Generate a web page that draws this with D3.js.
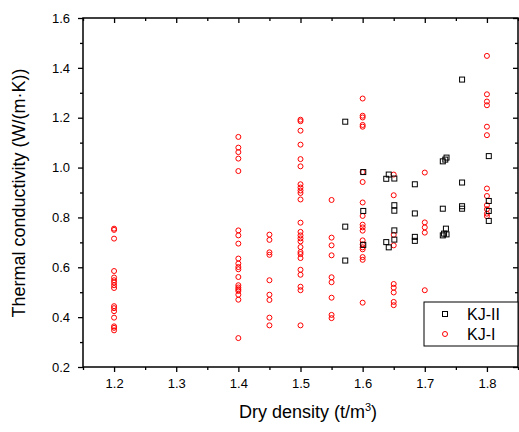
<!DOCTYPE html>
<html>
<head>
<meta charset="utf-8">
<script src="https://cdn.jsdelivr.net/npm/d3@7"></script>
<style>
  body { margin: 0; background: #fff; }
  svg text { font-family: Arial, "Liberation Sans", sans-serif; }
</style>
</head>
<body>
<svg id="chart"></svg>
<script>
let width = 519
let height = 432

// KJ-II (black squares)
let kj2Density = [
  1.572, 1.572, 1.572,
  1.601, 1.601, 1.601,
  1.638, 1.642, 1.638, 1.642,
  1.651, 1.651, 1.651, 1.651, 1.651,
  1.684, 1.684, 1.684, 1.684,
  1.729, 1.733, 1.735, 1.729, 1.734, 1.731, 1.729, 1.735,
  1.76, 1.76, 1.76, 1.76,
  1.803, 1.803, 1.803, 1.803
]
let kj2Conductivity = [
  1.184, 0.763, 0.627,
  0.982, 0.826, 0.69,
  0.955, 0.972, 0.701, 0.68,
  0.956, 0.849, 0.827, 0.748, 0.711,
  0.933, 0.816, 0.722, 0.706,
  1.025, 1.032, 1.040, 0.835, 0.755, 0.735, 0.728, 0.732,
  1.353, 0.940, 0.845, 0.835,
  1.046, 0.866, 0.826, 0.786
]

// KJ-I (red circles)
let kj1Density = [
  1.2, 1.2, 1.2, 1.2, 1.2, 1.2, 1.2, 1.2, 1.2, 1.2, 1.2, 1.2, 1.2, 1.2, 1.2, 1.2,
  1.4, 1.4, 1.4, 1.4, 1.4, 1.4, 1.4, 1.4, 1.4, 1.4, 1.4, 1.4, 1.4, 1.4, 1.4, 1.4, 1.4, 1.4, 1.4, 1.4,
  1.45, 1.45, 1.45, 1.45, 1.45, 1.45, 1.45, 1.45, 1.45,
  1.5, 1.5, 1.5, 1.5, 1.5, 1.5, 1.5, 1.5, 1.5, 1.5, 1.5, 1.5, 1.5, 1.5, 1.5, 1.5, 1.5, 1.5, 1.5, 1.5, 1.5, 1.5, 1.5, 1.5, 1.5,
  1.55, 1.55, 1.55, 1.55, 1.55, 1.55, 1.55, 1.55, 1.55,
  1.6, 1.6, 1.6, 1.6, 1.6, 1.6, 1.6, 1.6, 1.6, 1.6, 1.6, 1.6, 1.6, 1.6, 1.6, 1.6, 1.6, 1.6, 1.6,
  1.65, 1.65, 1.65, 1.65, 1.65, 1.65, 1.65, 1.65, 1.65,
  1.7, 1.7, 1.7, 1.7, 1.7,
  1.8, 1.8, 1.8, 1.8, 1.8, 1.8, 1.8, 1.8, 1.8, 1.8, 1.8, 1.8
]
let kj1Conductivity = [
  0.755, 0.75, 0.715, 0.585, 0.559, 0.548, 0.539, 0.528, 0.517, 0.444, 0.436, 0.424, 0.398, 0.363, 0.357, 0.347,
  1.123, 1.080, 1.062, 1.036, 0.986, 0.748, 0.728, 0.695, 0.635, 0.615, 0.601, 0.592, 0.561, 0.528, 0.519, 0.512, 0.505, 0.490, 0.470, 0.316,
  0.731, 0.710, 0.660, 0.650, 0.548, 0.490, 0.469, 0.398, 0.367,
  1.192, 1.186, 1.148, 1.092, 1.034, 1.005, 0.933, 0.920, 0.908, 0.898, 0.872, 0.779, 0.742, 0.728, 0.716, 0.704, 0.681, 0.661, 0.653, 0.637, 0.590, 0.570, 0.522, 0.508, 0.367,
  0.870, 0.719, 0.688, 0.648, 0.560, 0.540, 0.478, 0.409, 0.396,
  1.277, 1.208, 1.201, 1.171, 1.164, 0.982, 0.942, 0.860, 0.806, 0.771, 0.760, 0.747, 0.708, 0.692, 0.680, 0.672, 0.641, 0.630, 0.458,
  0.972, 0.889, 0.730, 0.688, 0.533, 0.518, 0.499, 0.461, 0.448,
  0.980, 0.780, 0.760, 0.739, 0.508,
  1.448, 1.294, 1.265, 1.250, 1.164, 1.130, 0.916, 0.886, 0.849, 0.833, 0.815, 0.805
]

let xTicks = [1.2, 1.3, 1.4, 1.5, 1.6, 1.7, 1.8]
let xMinor = [1.15, 1.25, 1.35, 1.45, 1.55, 1.65, 1.75, 1.85]
let yTicks = [0.2, 0.4, 0.6, 0.8, 1.0, 1.2, 1.4, 1.6]
let yMinor = [0.3, 0.5, 0.7, 0.9, 1.1, 1.3, 1.5]

let svg = d3.select("#chart")
  .attr("width", width)
  .attr("height", height)

let plotLeft = 83, plotRight = 518, plotTop = 18, plotBottom = 367

let x = d3.scaleLinear().domain([1.15, 1.85]).range([plotLeft, plotRight])
let y = d3.scaleLinear().domain([0.2, 1.6]).range([plotBottom, plotTop])

let fmt = d3.format(".1f")

function styleAxis(g) {
  g.select(".domain").remove()
  g.selectAll("line").attr("stroke", "#000").attr("stroke-width", 1.3)
  g.selectAll("text").attr("fill", "#000").attr("font-size", 13)
}

// bottom
svg.append("g").attr("transform", `translate(0,${plotBottom})`)
  .call(d3.axisBottom(x).tickValues(xTicks).tickSize(5).tickPadding(7).tickFormat(fmt))
  .call(styleAxis)
svg.append("g").attr("transform", `translate(0,${plotBottom})`)
  .call(d3.axisBottom(x).tickValues(xMinor).tickSize(3).tickFormat(""))
  .call(styleAxis)
// top (inward)
svg.append("g").attr("transform", `translate(0,${plotTop})`)
  .call(d3.axisTop(x).tickValues(xTicks).tickSize(-5).tickFormat(""))
  .call(styleAxis)
svg.append("g").attr("transform", `translate(0,${plotTop})`)
  .call(d3.axisTop(x).tickValues(xMinor).tickSize(-3).tickFormat(""))
  .call(styleAxis)
// left
svg.append("g").attr("transform", `translate(${plotLeft},0)`)
  .call(d3.axisLeft(y).tickValues(yTicks).tickSize(5).tickPadding(8).tickFormat(fmt))
  .call(styleAxis)
svg.append("g").attr("transform", `translate(${plotLeft},0)`)
  .call(d3.axisLeft(y).tickValues(yMinor).tickSize(3).tickFormat(""))
  .call(styleAxis)
// right (inward)
svg.append("g").attr("transform", `translate(${plotRight},0)`)
  .call(d3.axisRight(y).tickValues(yTicks).tickSize(-5).tickFormat(""))
  .call(styleAxis)
svg.append("g").attr("transform", `translate(${plotRight},0)`)
  .call(d3.axisRight(y).tickValues(yMinor).tickSize(-3).tickFormat(""))
  .call(styleAxis)

// frame
svg.append("rect")
  .attr("x", plotLeft).attr("y", plotTop)
  .attr("width", plotRight - plotLeft).attr("height", plotBottom - plotTop)
  .attr("fill", "none").attr("stroke", "#000").attr("stroke-width", 1.5)

// KJ-I circles
svg.append("g").selectAll("circle")
  .data(kj1Density.map((d, i) => [d, kj1Conductivity[i]]))
  .enter()
  .append("circle")
  .attr("cx", d => x(d[0]))
  .attr("cy", d => y(d[1]))
  .attr("r", 2.5)
  .attr("fill", "none")
  .attr("stroke", "#ff0000")
  .attr("stroke-width", 1)

// KJ-II squares
let sq = 5
svg.append("g").selectAll("rect")
  .data(kj2Density.map((d, i) => [d, kj2Conductivity[i]]))
  .enter()
  .append("rect")
  .attr("x", d => x(d[0]) - sq / 2)
  .attr("y", d => y(d[1]) - sq / 2)
  .attr("width", sq)
  .attr("height", sq)
  .attr("fill", "none")
  .attr("stroke", "#000")
  .attr("stroke-width", 1)

// legend
let lg = svg.append("g")
lg.append("rect")
  .attr("x", 424).attr("y", 302).attr("width", plotRight - 424).attr("height", 44)
  .attr("fill", "#fff").attr("stroke", "#000").attr("stroke-width", 1)
lg.append("rect")
  .attr("x", 445 - sq / 2).attr("y", 314 - sq / 2).attr("width", sq).attr("height", sq)
  .attr("fill", "none").attr("stroke", "#000")
lg.append("text").attr("x", 467).attr("y", 320).attr("font-size", 16).text("KJ-II")
lg.append("circle")
  .attr("cx", 445).attr("cy", 334).attr("r", 2.5)
  .attr("fill", "none").attr("stroke", "#ff0000")
lg.append("text").attr("x", 467).attr("y", 340).attr("font-size", 16).text("KJ-I")

// axis titles
let xt = svg.append("text")
  .attr("x", 308)
  .attr("y", 418)
  .attr("text-anchor", "middle")
  .attr("font-size", 18)
xt.append("tspan").text("Dry density (t/m")
xt.append("tspan").attr("dy", -7).attr("font-size", 11).text("3")
xt.append("tspan").attr("dy", 7).text(")")

svg.append("text")
  .attr("transform", `translate(25,193) rotate(-90)`)
  .attr("text-anchor", "middle")
  .attr("font-size", 18)
  .text("Thermal conductivity (W/(m\u00b7K))")
</script>
</body>
</html>
